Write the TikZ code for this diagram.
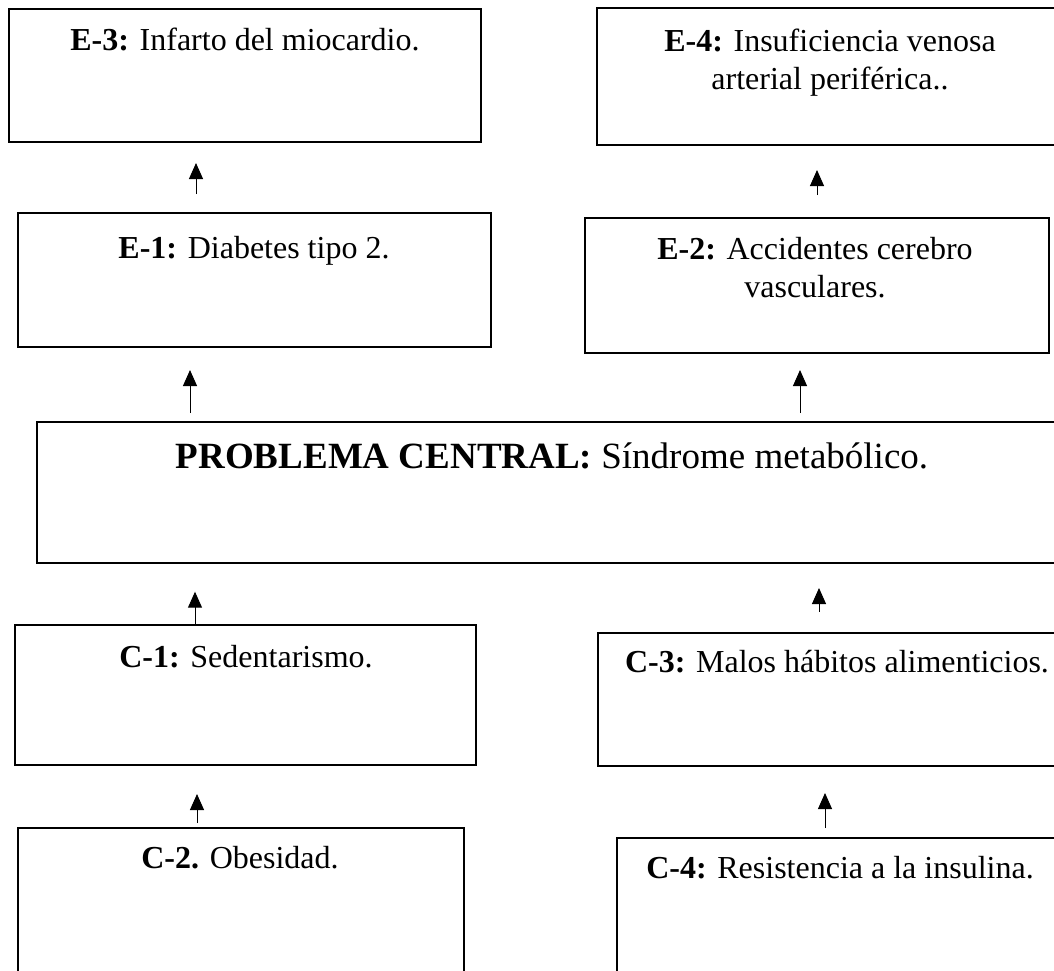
\documentclass[tikz,border=0pt]{standalone}
\usepackage{fontspec}
\setmainfont{Liberation Serif}
\usetikzlibrary{arrows.meta}
\tikzset{
  box/.style={draw=black, line width=1.8pt, inner sep=0pt, outer sep=0pt, anchor=north west, fill=none},
  txt/.style={inner sep=0pt, anchor=base, align=center, font=\fontsize{32}{38}\selectfont},
  bigtxt/.style={inner sep=0pt, anchor=base, align=center, font=\fontsize{37}{44}\selectfont},
  arr/.style={line width=1pt, -{Triangle[length=16pt,width=14pt]}}
}
\begin{document}
\begin{tikzpicture}[x=1pt,y=-1pt]
\useasboundingbox (0,0) rectangle (1054,970);
\clip (0,0) rectangle (1054,970);
% boxes
\node[box, minimum width=472pt, minimum height=133pt] (e3) at (9,9) {};
\node[box, minimum width=466pt, minimum height=137pt] (e4) at (597,8) {};
\node[box, minimum width=473pt, minimum height=134pt] (e1) at (18,212.7) {};
\node[box, minimum width=464pt, minimum height=134.7pt] (e2) at (585,218) {};
\node[box, minimum width=1031pt, minimum height=141.3pt] (pc) at (37,421.7) {};
\node[box, minimum width=461pt, minimum height=140pt] (c1) at (15,625) {};
\node[box, minimum width=478pt, minimum height=133pt] (c3) at (598,633) {};
\node[box, minimum width=446pt, minimum height=180pt] (c2) at (18,828) {};
\node[box, minimum width=446pt, minimum height=180pt] (c4) at (617,838) {};
% texts
\node[txt] (e3t) at (245,50) {\textbf{E-3:} Infarto del miocardio.};
\node[txt] (e4t) at (830,89) {\textbf{E-4:} Insuficiencia venosa\\arterial periférica..};
\node[txt] (e1t) at (254,258) {\textbf{E-1:} Diabetes tipo 2.};
\node[txt] (e2t) at (815,297) {\textbf{E-2:} Accidentes cerebro\\vasculares.};
\node[bigtxt] (pct) at (552,468) {\textbf{PROBLEMA CENTRAL:} Síndrome metabólico.};
\node[txt] (c1t) at (246,667) {\textbf{C-1:} Sedentarismo.};
\node[txt] (c3t) at (837,672) {\textbf{C-3:} Malos hábitos alimenticios.};
\node[txt] (c2t) at (240,868) {\textbf{C-2.} Obesidad.};
\node[txt] (c4t) at (840,878) {\textbf{C-4:} Resistencia a la insulina.};
% arrow x positions
\coordinate (xa1) at (196,0);
\coordinate (xa2) at (817,0);
\coordinate (xa3) at (190,0);
\coordinate (xa4) at (800,0);
\coordinate (xa5) at (195,0);
\coordinate (xa6) at (819,0);
\coordinate (xa7) at (197,0);
\coordinate (xa8) at (825,0);
% arrows
\draw[arr, shorten <=18.7pt, shorten >=21pt] (e1.north -| xa1) -- (e3.south -| xa1);
\draw[arr, shorten <=23pt, shorten >=25pt] (e2.north -| xa2) -- (e4.south -| xa2);
\draw[arr, shorten <=8.7pt, shorten >=23.3pt] (pc.north -| xa3) -- (e1.south -| xa3);
\draw[arr, shorten <=8.7pt, shorten >=17.3pt] (pc.north -| xa4) -- (e2.south -| xa4);
\draw[arr, shorten >=28.7pt] (c1.north -| xa5) -- (pc.south -| xa5);
\draw[arr, shorten <=21.3pt, shorten >=25pt] (c3.north -| xa6) -- (pc.south -| xa6);
\draw[arr, shorten <=5pt, shorten >=29pt] (c2.north -| xa7) -- (c1.south -| xa7);
\draw[arr, shorten <=10pt, shorten >=27pt] (c4.north -| xa8) -- (c3.south -| xa8);
\end{tikzpicture}
\end{document}
